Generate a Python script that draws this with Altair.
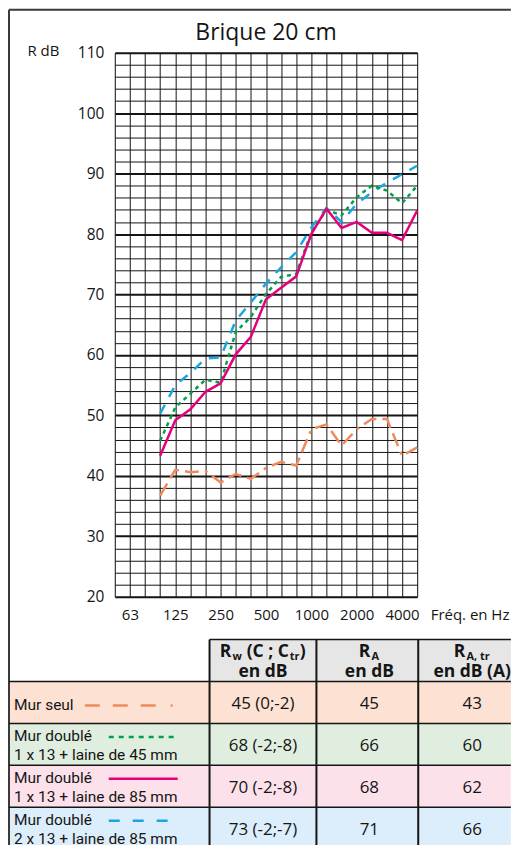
import altair as alt
import pandas as pd

# ---------------- data ----------------
TITLE = "Brique 20 cm"
Y_TITLE = "R dB"
X_TITLE = "Fréq. en Hz"

BANDS = ["50", "63", "80", "100", "125", "160", "200", "250", "315", "400",
         "500", "630", "800", "1000", "1250", "1600", "2000", "2500", "3150",
         "4000", "5000"]
FREQS = ["100", "125", "160", "200", "250", "315", "400", "500", "630", "800",
         "1000", "1250", "1600", "2000", "2500", "3150", "4000", "5000"]
X_LABELS = ["63", "125", "250", "500", "1000", "2000", "4000"]
Y_LABELS = [20, 30, 40, 50, 60, 70, 80, 90, 100, 110]

SERIES = ["Mur seul",
          "Mur doublé 1 x 13 + laine de 45 mm",
          "Mur doublé 1 x 13 + laine de 85 mm",
          "Mur doublé 2 x 13 + laine de 85 mm"]
MUR_SEUL = [36.7, 41.0, 40.6, 40.8, 38.9, 40.3, 39.5, 41.3, 42.3, 41.7,
            47.7, 48.5, 45.0, 47.7, 49.4, 49.4, 43.3, 44.7]
DOUBLE_45 = [45.8, 51.3, 53.6, 55.9, 55.4, 63.8, 66.3, 70.1, 72.9, 73.4,
             80.3, 84.0, 83.1, 86.1, 88.0, 87.2, 85.1, 88.0]
DOUBLE_85 = [43.3, 49.2, 51.0, 53.9, 55.3, 60.1, 63.0, 69.2, 71.1, 73.0,
             80.0, 84.2, 81.0, 82.0, 80.2, 80.2, 79.0, 83.9]
DOUBLE_2X13 = [50.3, 55.0, 57.0, 59.4, 59.6, 65.7, 68.7, 71.8, 74.5, 77.0,
               81.1, 84.3, 82.0, 85.0, 86.9, 88.5, 89.9, 91.3]

ROW_NAME = ["Mur seul", "Mur doublé", "Mur doublé", "Mur doublé"]
ROW_DETAIL = ["", "1 x 13 + laine de 45 mm", "1 x 13 + laine de 85 mm",
              "2 x 13 + laine de 85 mm"]
RW_C_CTR = ["45 (0;-2)", "68 (-2;-8)", "70 (-2;-8)", "73 (-2;-7)"]
R_A = ["45", "66", "68", "71"]
R_A_TR = ["43", "60", "62", "66"]
HEADER_LINE1 = [[("R", "main"), ("w", "sub"), (" (C ; C", "main"), ("tr", "sub"), (")", "main")],
                [("R", "main"), ("A", "sub")],
                [("R", "main"), ("A, tr", "sub")]]
HEADER_LINE2 = ["en dB", "en dB", "en dB (A)"]

# ---------------- style / layout ----------------
FONT = "Open Sans"
COND_FONT = "Roboto"
INK = "#151515"
LINE_STYLE = [  # color, dash, width
    ("#EF8A5E", [14, 6, 14, 6, 14, 6, 3, 6], 2.5),
    ("#00A04E", [4, 4], 2.5),
    ("#E5007E", None, 2.5),
    ("#1AA7E1", [10, 9], 2.5),
]
DRAW_ORDER = [0, 3, 1, 2]
LEGEND_DASH = [[15, 13, 15, 13, 15, 15, 2, 30], [5, 5], None, [11, 13]]
ROW_FILLS = ["#FDE1D3", "#E0EEE0", "#FCE1EB", "#DCEDFB"]
HEADER_FILL = "#E6E6E6"

PLOT_W, PLOT_H = 303, 545
COL_PX, ROW_PX = 102.0, 42.0
TAB_TOP = 588
TAB_X_RANGE = [-106, -106 + 5 * COL_PX]
TAB_Y_RANGE = [TAB_TOP, TAB_TOP + 5 * ROW_PX]
COL_EDGES = [0.0, 1.97, 3.02, 4.02, 4.93]
COL_TEXT_X = [(1.97 + 3.02) / 2, 3.54, 4.55]
ROW_EDGES = [0, 1, 2, 3, 4, 4.9]
FRAME_TOP = (-43 - TAB_TOP) / ROW_PX
TITLE_POS = ((PLOT_W / 2 + 106) / COL_PX, (-12.5 - TAB_TOP) / ROW_PX)
HDR_MAIN, HDR_SUB = 17.5, 11
L1_BASE, SUB_DROP, L2_BASE = 17.5 / ROW_PX, 3.0 / ROW_PX, 37.5 / ROW_PX

CW = {"R": 0.70, "w": 0.84, " ": 0.26, "(": 0.34, ")": 0.34, "C": 0.64,
      ";": 0.29, "t": 0.43, "r": 0.45, "A": 0.72, ",": 0.28}


def tw(s, size):
    return sum(CW.get(ch, 0.6) for ch in s) * size


# ---------------- line chart ----------------
x_label_arr = "[" + ",".join("'%s'" % (b if b in X_LABELS else "") for b in BANDS) + "]"

X_ENC = alt.X(
    "idx:Q",
    scale=alt.Scale(domain=[0, len(BANDS) - 1], nice=False, zero=False),
    axis=alt.Axis(
        values=list(range(len(BANDS))), labelExpr=x_label_arr + "[datum.value]",
        grid=True, gridColor=INK, gridWidth=1, domain=False, ticks=True, tickSize=0,
        labelPadding=11, labelFontSize=15, labelFont=FONT, labelColor=INK,
        labelOverlap=False, labelFlush=False, labelBound=False,
        title=X_TITLE, titleX=316, titleY=11, titleAlign="left", titleBaseline="top",
        titleFont=FONT, titleFontSize=15, titleFontWeight="normal", titleColor=INK,
    ),
)
Y_ENC = alt.Y(
    "db:Q",
    scale=alt.Scale(domain=[Y_LABELS[0], Y_LABELS[-1]], nice=False, zero=False),
    axis=alt.Axis(
        values=list(range(Y_LABELS[0], Y_LABELS[-1] + 1, 2)),
        labelExpr="datum.value % 10 === 0 ? datum.label : ''",
        grid=True, gridColor=INK,
        gridWidth={"condition": {"test": "datum.value % 10 === 0", "value": 2}, "value": 1},
        domain=False, ticks=True, tickSize=0,
        labelPadding=11, labelFontSize=15.5, labelFont=FONT, labelColor=INK,
        labelOverlap=False, labelFlush=False, labelBound=False,
        title=Y_TITLE, titleAngle=0, titleX=-88, titleY=-2, titleAlign="left",
        titleBaseline="middle", titleFont=FONT, titleFontSize=15,
        titleFontWeight="normal", titleColor=INK,
    ),
)

VALUES = [MUR_SEUL, DOUBLE_45, DOUBLE_85, DOUBLE_2X13]
line_layers = []
for i in DRAW_ORDER:
    color, dash, width = LINE_STYLE[i]
    df = pd.DataFrame({"series": SERIES[i], "band": FREQS,
                       "idx": [BANDS.index(f) for f in FREQS], "db": VALUES[i]})
    kw = dict(color=color, strokeWidth=width, strokeCap="butt")
    if dash:
        kw["strokeDash"] = dash
    line_layers.append(alt.Chart(df).mark_line(**kw).encode(x=X_ENC, y=Y_ENC))
lines = alt.layer(*line_layers)

# ---------------- table (and frame/title) ----------------
TX = alt.Scale(domain=[0, 5], range=TAB_X_RANGE, nice=False, zero=False)
TY = alt.Scale(domain=[0, 5], range=TAB_Y_RANGE, nice=False, zero=False)


def tx(f="x"):
    return alt.X(f + ":Q", scale=TX, axis=None)


def ty(f="y"):
    return alt.Y(f + ":Q", scale=TY, axis=None)


RIGHT = COL_EDGES[-1]
rect_df = pd.DataFrame(
    [dict(x=COL_EDGES[0], x2=RIGHT, y=ROW_EDGES[i + 1], y2=ROW_EDGES[i + 2], fill=ROW_FILLS[i])
     for i in range(4)]
    + [dict(x=COL_EDGES[1], x2=RIGHT, y=ROW_EDGES[0], y2=ROW_EDGES[1], fill=HEADER_FILL)]
)
rects = alt.Chart(rect_df).mark_rect(strokeWidth=0).encode(
    x=tx(), x2="x2:Q", y=ty(), y2="y2:Q", color=alt.Color("fill:N", scale=None))

rule_rows = [
    dict(x=0, x2=RIGHT, y=FRAME_TOP, y2=FRAME_TOP, w=2, c="#3a3a3a"),
    dict(x=0, x2=0, y=FRAME_TOP, y2=ROW_EDGES[-1], w=2, c="#3a3a3a"),
    dict(x=COL_EDGES[1], x2=RIGHT, y=0, y2=0, w=1.5, c=INK),
]
for r in ROW_EDGES[1:5]:
    rule_rows.append(dict(x=0, x2=RIGHT, y=r, y2=r, w=1.5, c=INK))
for c in COL_EDGES[1:4]:
    rule_rows.append(dict(x=c, x2=c, y=0, y2=ROW_EDGES[-1], w=2, c=INK))
rules = alt.Chart(pd.DataFrame(rule_rows)).mark_rule().encode(
    x=tx(), x2="x2:Q", y=ty(), y2="y2:Q",
    color=alt.Color("c:N", scale=None), strokeWidth=alt.StrokeWidth("w:Q", scale=None))

title_mark = alt.Chart(pd.DataFrame([dict(x=TITLE_POS[0], y=TITLE_POS[1], text=TITLE)])).mark_text(
    align="center", baseline="alphabetic", font=FONT, fontSize=23, color=INK
).encode(x=tx(), y=ty(), text="text:N")

# header text
hdr_rows = []
for k, pieces in enumerate(HEADER_LINE1):
    sizes = [HDR_MAIN if kind == "main" else HDR_SUB for _, kind in pieces]
    widths = [tw(t, s) + 0.5 for (t, _), s in zip(pieces, sizes)]
    cur = COL_TEXT_X[k] - sum(widths) / 2 / COL_PX
    for (t, kind), s, w in zip(pieces, sizes, widths):
        lead = len(t) - len(t.lstrip(" "))
        hdr_rows.append(dict(x=cur + tw(" " * lead, s) / COL_PX,
                             y=L1_BASE + (SUB_DROP if kind == "sub" else 0),
                             text=t.lstrip(" "), size=s))
        cur += w / COL_PX
hdr1 = alt.Chart(pd.DataFrame(hdr_rows)).mark_text(
    align="left", baseline="alphabetic", font=FONT, fontWeight="bold", color=INK
).encode(x=tx(), y=ty(), text="text:N", size=alt.Size("size:Q", scale=None))
hdr2 = alt.Chart(pd.DataFrame({"x": COL_TEXT_X, "y": [L2_BASE] * 3, "text": HEADER_LINE2})).mark_text(
    align="center", baseline="alphabetic", font=FONT, fontWeight="bold", fontSize=HDR_MAIN, color=INK
).encode(x=tx(), y=ty(), text="text:N")

# numbers
num_rows = []
for i in range(4):
    yc = ROW_EDGES[i + 1] + 0.5 + 2 / ROW_PX
    for k, col in enumerate([RW_C_CTR, R_A, R_A_TR]):
        num_rows.append(dict(x=COL_TEXT_X[k], y=yc, text=col[i]))
nums = alt.Chart(pd.DataFrame(num_rows)).mark_text(
    align="center", baseline="middle", font=FONT, fontSize=17, color=INK
).encode(x=tx(), y=ty(), text="text:N")

# row labels
lab_rows = []
for i in range(4):
    yc = ROW_EDGES[i + 1] + 0.5
    if ROW_DETAIL[i]:
        lab_rows.append(dict(x=0.05, y=yc - 8 / ROW_PX, text=ROW_NAME[i]))
        lab_rows.append(dict(x=0.05, y=yc + 10.5 / ROW_PX, text=ROW_DETAIL[i]))
    else:
        lab_rows.append(dict(x=0.05, y=yc + 3 / ROW_PX, text=ROW_NAME[i]))
labels = alt.Chart(pd.DataFrame(lab_rows)).mark_text(
    align="left", baseline="middle", font=COND_FONT, fontSize=15.5, color=INK
).encode(x=tx(), y=ty(), text="text:N")

# legend samples
samples = []
for i in range(4):
    color, _, width = LINE_STYLE[i]
    yc = ROW_EDGES[i + 1] + 0.5
    if ROW_DETAIL[i]:
        d = dict(x=0.98, x2=1.657, y=yc - 7.5 / ROW_PX)
    else:
        d = dict(x=0.745, x2=1.657, y=yc + 3 / ROW_PX)
    kw = dict(color=color, strokeWidth=width, strokeCap="butt")
    if LEGEND_DASH[i]:
        kw["strokeDash"] = LEGEND_DASH[i]
    samples.append(alt.Chart(pd.DataFrame([d])).mark_rule(**kw).encode(x=tx(), x2="x2:Q", y=ty()))

table = alt.layer(rects, rules, title_mark, hdr1, hdr2, nums, labels, *samples)

chart = alt.layer(lines, table).resolve_scale(x="independent", y="independent").properties(
    width=PLOT_W, height=PLOT_H, padding=0,
).configure_view(stroke=INK, strokeWidth=1.5).configure(background="white")

chart.save("out.html", embed_options={"renderer": "svg", "actions": False})
